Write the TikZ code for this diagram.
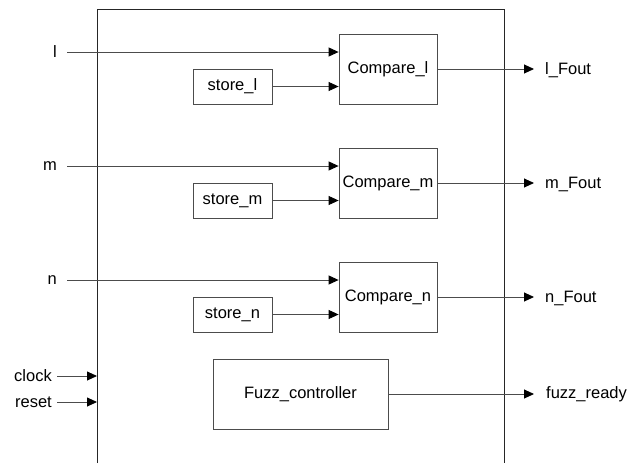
\documentclass[tikz,border=0pt]{standalone}
\usepackage{fontspec}
\setmainfont{Liberation Sans}
\usetikzlibrary{arrows.meta}

\begin{document}
\begin{tikzpicture}[x=1pt,y=-1pt,
  cmpbox/.style={draw=black!70, line width=0.8pt, minimum width=98pt, minimum height=70pt, inner sep=0pt},
  storebox/.style={draw=black!70, line width=0.8pt, minimum width=79pt, minimum height=35pt, inner sep=0pt},
  sig/.style={draw=black!70, line width=0.9pt, -{Triangle[length=10pt,width=9pt,color=black]}},
  lbl/.style={inner sep=0pt}]
\fontsize{16.5}{19}\selectfont
\useasboundingbox (0,0) rectangle (642,463);
\newcommand\comparerow[2]{
\node[cmpbox] (cmp#1) at (388,69+#2) {Compare\_#1};
\node[storebox] (st#1) at (232.5,86.5+#2) {store\_#1};
\node[lbl,anchor=east] (in#1) at (57,52+#2) {#1};
\coordinate (src#1) at (67,52+#2);
\node[lbl,anchor=west] (out#1) at (545,70+#2) {#1\_Fout};
\coordinate (dst#1) at (534,70+#2);
\draw[sig] (src#1) -- (src#1 -| cmp#1.west);
\draw[sig] (st#1) -- (st#1 -| cmp#1.west);
\draw[sig] (cmp#1.east) -- (cmp#1.east -| dst#1);
}
% outer frame, open at the bottom
\coordinate (frameL) at (97,9);
\coordinate (frameR) at (504,9);
\coordinate (frameBL) at (97,463);
\coordinate (frameBR) at (504,463);
\draw[black!85, line width=0.9pt] (frameBL) -- (frameL) -- (frameR) -- (frameBR);
\comparerow{l}{0}
\comparerow{m}{114}
\comparerow{n}{228}
% controller
\node[cmpbox, minimum width=175pt] (fuzz) at (300.5,394) {Fuzz\_controller};
\coordinate (fuzzdst) at (534,394);
\node[lbl,anchor=west] (fuzzout) at (546,394) {fuzz\_ready};
\draw[sig] (fuzz.east) -- (fuzzdst);
\node[lbl,anchor=east] (clk) at (52,376) {clock};
\coordinate (clksrc) at (57,376);
\node[lbl,anchor=east] (rst) at (52,402) {reset};
\coordinate (rstsrc) at (57,402);
\draw[sig] (clksrc) -- (clksrc -| frameL);
\draw[sig] (rstsrc) -- (rstsrc -| frameL);
\end{tikzpicture}
\end{document}
